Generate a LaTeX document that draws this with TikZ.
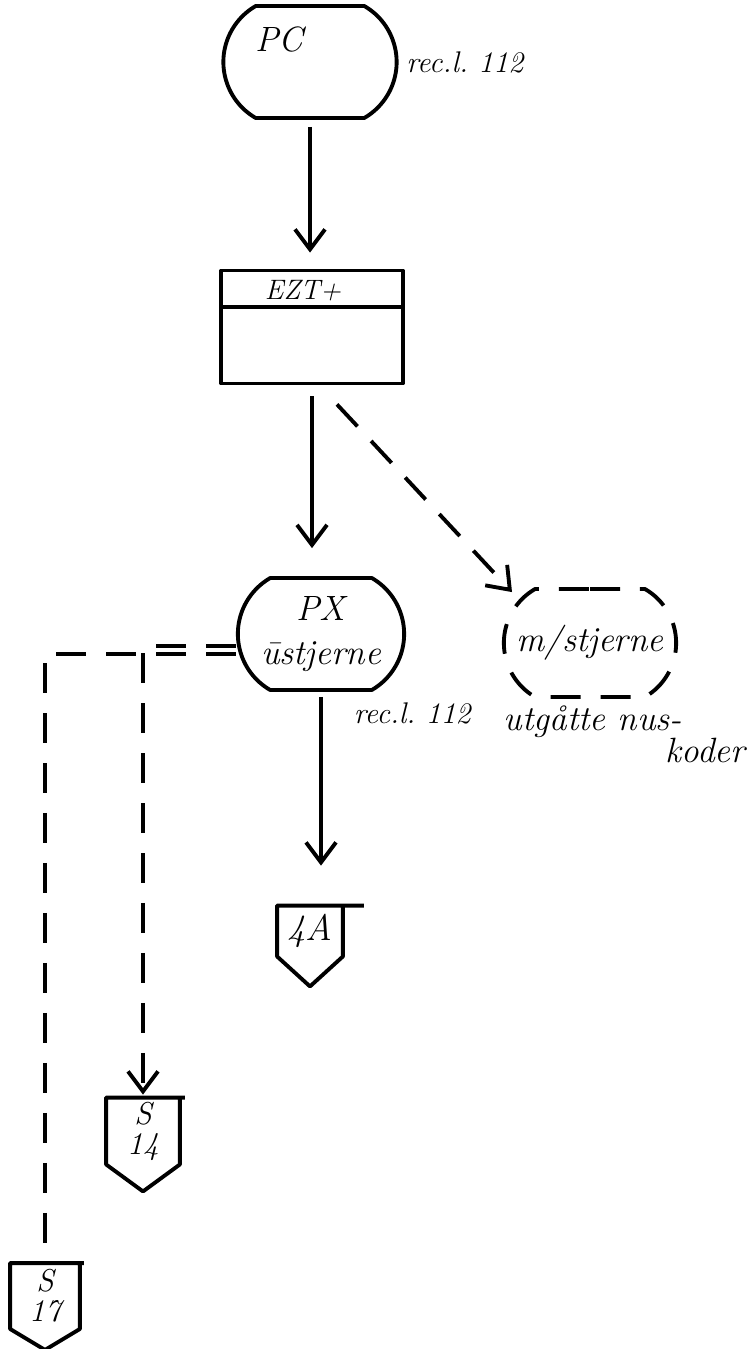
\documentclass[tikz,border=0pt]{standalone}
\usetikzlibrary{shapes.misc}
\usetikzlibrary{arrows.meta}
\tikzset{%
  flowarrow/.style = {-{Straight Barb[length=0.4cm,width=0.6cm]},solid},
  dashline/.style = {dash pattern=on 0.6cm off 0.4cm},
  dasharrow/.style = {-{Straight Barb[length=0.4cm,width=0.6cm]},dashline},
  term/.style = {rounded rectangle,rounded rectangle arc length=120,draw,
        minimum width=3.7cm,minimum height=2.24cm,align=center},
  proc/.style = {rectangle,draw,solid,minimum width=3.64cm,
        minimum height=2.26cm},
  offp/.style = {rectangle,align=center,inner sep=0pt,
        font=\fontsize{18}{17}\selectfont\itshape},
  hand/.style = {font=\fontsize{20}{25}\selectfont\itshape},
  note/.style = {font=\fontsize{17}{20}\selectfont\itshape}
}
\begin{document}
\begin{tikzpicture}[x=0.02cm,y=-0.02cm,line width=2.2pt,line join=round,
every node/.style={hand}
]
\useasboundingbox (0,0) rectangle (751,1349);
% start
\node[term,label={[anchor=north,xshift=-0.62cm,yshift=-0.3cm]north:PC}] (pc) at (310,62) {};
\node[note,anchor=west] (pcrec) at (pc.east) {rec.l.\ 112};
% file
\node[proc] (ezt) at (312,327) {};
\draw ([yshift=-0.76cm]ezt.north west) -- ([yshift=-0.76cm]ezt.north east);
\node[font=\fontsize{16}{20}\selectfont\itshape] (eztname) at (303,291) {EZT+};
% outputs
\node[term,minimum width=3.56cm] (px) at (321,634) {PX\\ūstjerne};
\node[term,dashline,minimum width=3.68cm,minimum height=2.16cm] (mst) at (590,643) {m/stjerne};
\node[anchor=north west] (mstnote) at (496,698) {utgåtte nus-};
\node[anchor=north east] (mstkoder) at (753,730) {koder};
\node[note,anchor=north west] (pxrec) at (346,695) {rec.l.\ 112};
% connectors
\node[offp,font=\fontsize{21}{20}\selectfont\itshape,minimum width=1.24cm,minimum height=0.94cm] (fa) at (310,931) {4A};
\node[offp,minimum width=1.4cm,minimum height=1.26cm] (sfourteen) at (143,1131) {S\\14};
\node[offp,minimum width=1.32cm,minimum height=1.24cm] (sseventeen) at (45,1296) {S\\17};
\foreach \n/\d/\o in {fa/0.6cm/0.42cm,sfourteen/0.54cm/0.1cm,sseventeen/0.42cm/0.08cm}
  \draw ([xshift=\o]\n.north east) -- (\n.north west) -- (\n.south west)
    -- ([yshift=-\d]\n.south) -- (\n.south east) -- (\n.north east);
% flow
\draw[flowarrow,shorten <=0.14cm,shorten >=0.32cm] (pc.south) -- (pc.south |- ezt.north);
\draw[flowarrow,shorten <=0.22cm,shorten >=0.56cm] (ezt.south) -- (ezt.south |- px.north);
\draw[flowarrow,shorten <=0.1cm,shorten >=0.8cm] (px.south) -- (px.south |- fa.north);
\draw[dasharrow] ([xshift=0.5cm,yshift=-0.38cm]ezt.south) -- ([xshift=-1.56cm,yshift=-0.1cm]mst.north);
\draw[dasharrow] ([yshift=-0.24cm]px.west) -| ([yshift=0.06cm]sfourteen.north);
\draw[dashline] ([yshift=-0.4cm]px.west) -| (sseventeen.north);
\end{tikzpicture}
\end{document}
